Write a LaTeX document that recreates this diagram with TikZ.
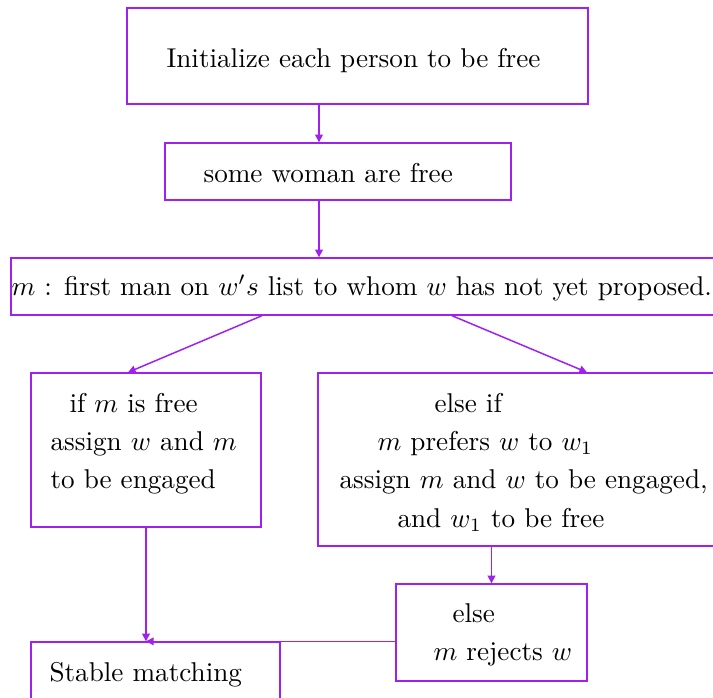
\documentclass[tikz,border=0pt]{standalone}
\usetikzlibrary{arrows.meta,fit}
\definecolor{lnc}{RGB}{160,32,240}
\begin{document}
\begin{tikzpicture}[x=0.368pt,y=-0.368pt,
  box/.style={draw=lnc, line width=0.5pt, inner sep=0pt, fit={#1}},
  txt/.style={anchor=base west, inner sep=0pt, text=black},
  arr/.style={draw=lnc, line width=0.55pt, -{Triangle[length=2.8pt,width=2.8pt]}}]
\useasboundingbox (0,0) rectangle (713,697);
\clip (0,0) rectangle (713,697);
% boxes
\node[box={(127,8) (588,104)}] (init) {};
\node[box={(165,143) (511,200)}] (woman) {};
\node[box={(11,258) (740,315)}] (mbox) {};
\node[box={(31,373) (261,527)}] (ifbox) {};
\node[box={(318,373) (740,546)}] (elseif) {};
\node[box={(396,584) (587,681)}] (rej) {};
\node[box={(31,642) (280,740)}] (stable) {};
% texts
\node[txt] (t1) at (166,67) {Initialize each person to be free};
\node[txt] (t2) at (203,182) {some woman are free};
\node[txt] (t3) at (11,295) {$m$ : first man on $w's$ list to whom $w$ has not yet proposed.};
\node[txt] (t4) at (69,412) {if $m$ is free};
\node[txt] (t5) at (50,450) {assign $w$ and $m$};
\node[txt] (t6) at (50,488) {to be engaged};
\node[txt] (t7) at (434,412) {else if};
\node[txt] (t8) at (377,450) {$m$ prefers $w$ to $w_1$};
\node[txt] (t9) at (339,488) {assign $m$ and $w$ to be engaged,};
\node[txt] (t10) at (397,527) {and $w_1$ to be free};
\node[txt] (t11) at (452,622) {else};
\node[txt] (t12) at (433,660) {$m$ rejects $w$};
\node[txt] (t13) at (49,681) {Stable matching};
% helper coordinates
\coordinate (c1) at (319,0);
\coordinate (c2) at (262,0);
\coordinate (c3) at (128,0);
\coordinate (c4) at (452,0);
\coordinate (c5) at (587,0);
% connectors
\draw[arr] (init.south -| c1) -- (woman.north -| c1);
\draw[arr] (woman.south -| c1) -- (mbox.north -| c1);
\draw[arr] (mbox.south -| c2) -- (ifbox.north -| c3);
\draw[arr] (mbox.south -| c4) -- (elseif.north -| c5);
\draw[arr] (ifbox.south) -- (ifbox.south |- stable.north);
\draw[arr] (elseif.south -| rej.north) -- (rej.north);
\draw[arr] (rej.west |- stable.north) -- (ifbox.south |- stable.north);
\end{tikzpicture}
\end{document}
